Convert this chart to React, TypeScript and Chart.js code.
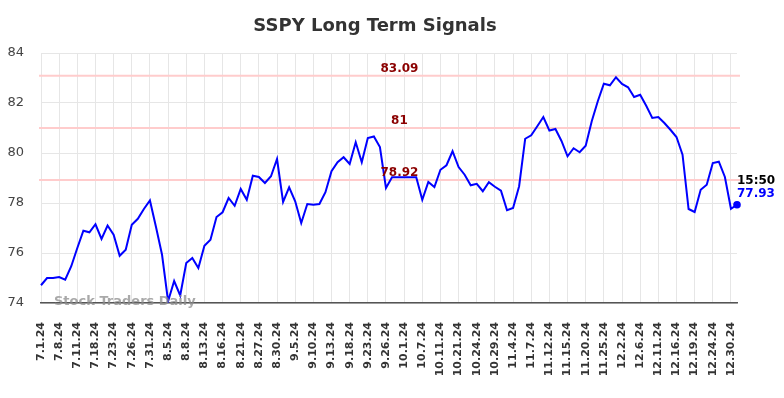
import React, { useEffect, useRef } from "react";
import { Chart, registerables } from "chart.js";

Chart.register(...registerables);

const titleText = "SSPY Long Term Signals";
const watermark = "Stock Traders Daily";
const lastTime = "15:50";
const lastLabel = "77.93";

const tickLabels = [
  "7.1.24", "7.8.24", "7.11.24", "7.18.24", "7.23.24", "7.26.24", "7.31.24",
  "8.5.24", "8.8.24", "8.13.24", "8.16.24", "8.21.24", "8.27.24", "8.30.24",
  "9.5.24", "9.10.24", "9.13.24", "9.18.24", "9.23.24", "9.26.24",
  "10.1.24", "10.7.24", "10.11.24", "10.21.24", "10.24.24", "10.29.24",
  "11.4.24", "11.7.24", "11.12.24", "11.15.24", "11.20.24", "11.25.24",
  "12.2.24", "12.6.24", "12.11.24", "12.16.24", "12.19.24", "12.24.24", "12.30.24",
];

const values = [
  74.71, 75.0, 75.0, 75.04, 74.93, 75.47, 76.2, 76.89, 76.83, 77.15,
  76.56, 77.1, 76.73, 75.89, 76.13, 77.13, 77.37, 77.76, 78.1, 77.04,
  75.93, 74.07, 74.88, 74.3, 75.6, 75.8, 75.4, 76.29, 76.53, 77.44,
  77.63, 78.2, 77.89, 78.56, 78.13, 79.09, 79.04, 78.8, 79.07, 79.76,
  78.04, 78.63, 78.07, 77.2, 77.96, 77.93, 77.96, 78.43, 79.27, 79.63,
  79.83, 79.56, 80.43, 79.63, 80.6, 80.66, 80.24, 78.6, 79.03, 79.03,
  79.03, 79.03, 79.03, 78.13, 78.84, 78.64, 79.33, 79.51, 80.07, 79.44,
  79.13, 78.71, 78.77, 78.47, 78.83, 78.65, 78.49, 77.71, 77.8, 78.67,
  80.57, 80.71, 81.07, 81.44, 80.9, 80.96, 80.48, 79.87, 80.19, 80.03,
  80.29, 81.27, 82.07, 82.77, 82.71, 83.03, 82.76, 82.63, 82.24, 82.33,
  81.89, 81.4, 81.44, 81.2, 80.93, 80.64, 79.93, 77.76, 77.64, 78.53,
  78.73, 79.6, 79.65, 79.04, 77.77, 77.93,
];

const levels = [83.09, 81, 78.92];
const levelLabels = ["83.09", "81", "78.92"];

const categories = values.map((_, i) =>
  i % 3 === 0 && tickLabels[i / 3] !== undefined ? tickLabels[i / 3] : ""
);

const FONT = "'DejaVu Sans', sans-serif";

const annotPlugin = {
  id: "annot",
  beforeDatasetsDraw(chart: any) {
    const { ctx, chartArea } = chart;
    const y = chart.scales.y;
    ctx.save();
    ctx.strokeStyle = "#ffcccc";
    ctx.lineWidth = 2;
    levels.forEach((v) => {
      const py = y.getPixelForValue(v);
      ctx.beginPath();
      ctx.moveTo(chartArea.left - 2, py);
      ctx.lineTo(chartArea.right + 3, py);
      ctx.stroke();
    });
    ctx.restore();
  },
  afterDatasetsDraw(chart: any) {
    const { ctx, chartArea } = chart;
    const y = chart.scales.y;
    ctx.save();
    // title
    ctx.fillStyle = "#333333";
    ctx.font = `bold 18px ${FONT}`;
    ctx.textAlign = "center";
    ctx.textBaseline = "middle";
    ctx.fillText(titleText, 375, 26);
    // level labels
    ctx.fillStyle = "#8b0000";
    ctx.font = `bold 12px ${FONT}`;
    const cx = chartArea.left + (chartArea.right - chartArea.left) * 0.515;
    levels.forEach((v, i) => {
      const py = y.getPixelForValue(v);
      ctx.fillText(levelLabels[i], cx, py - 7);
    });
    // watermark
    ctx.fillStyle = "rgba(140,140,140,0.75)";
    ctx.font = `bold 13px ${FONT}`;
    ctx.textAlign = "left";
    ctx.fillText(watermark, 54, 302);
    // end point
    const meta = chart.getDatasetMeta(0);
    const pt = meta.data[meta.data.length - 1];
    ctx.fillStyle = "#0000ff";
    ctx.beginPath();
    ctx.arc(pt.x, pt.y, 3.8, 0, Math.PI * 2);
    ctx.fill();
    ctx.font = `bold 12px ${FONT}`;
    ctx.fillStyle = "#000000";
    ctx.fillText(lastTime, pt.x, pt.y - 24);
    ctx.fillStyle = "#0000ff";
    ctx.fillText(lastLabel, pt.x, pt.y - 11);
    ctx.restore();
  },
};

export default function App() {
  const ref = useRef<HTMLCanvasElement>(null);
  useEffect(() => {
    if (!ref.current) return;
    const chart = new Chart(ref.current, {
      type: "line",
      data: {
        labels: categories,
        datasets: [
          {
            data: values,
            borderColor: "#0000ff",
            borderWidth: 2,
            pointRadius: 0,
            tension: 0,
            fill: false,
          },
        ],
      },
      options: {
        responsive: false,
        animation: false,
        layout: { padding: { top: 53, right: 47, left: 0, bottom: 0 } },
        plugins: {
          legend: { display: false },
          title: { display: false },
          tooltip: { enabled: false },
        },
        scales: {
          x: {
            type: "category",
            afterFit: (s: any) => {
              s.height = 95;
            },
            ticks: {
              autoSkip: false,
              maxRotation: 90,
              minRotation: 90,
              padding: 19,
              color: "#333333",
              font: { family: FONT, size: 11, weight: "bold" },
            },
            grid: {
              drawTicks: false,
              color: (c: any) => (c.index % 3 === 0 ? "#e6e6e6" : "rgba(0,0,0,0)"),
            },
            border: { color: "#555555", width: 1.5 },
          },
          y: {
            min: 74,
            max: 84,
            afterFit: (s: any) => {
              s.width = 41;
            },
            ticks: {
              stepSize: 2,
              padding: 17,
              color: "#444444",
              font: { family: FONT, size: 13 },
            },
            grid: { drawTicks: false, color: "#e6e6e6" },
            border: { display: false },
          },
        },
      },
      plugins: [annotPlugin],
    });
    return () => chart.destroy();
  }, []);
  return (
    <div style={{ position: "absolute", left: 0, top: 0, width: 784, height: 398 }}>
      <canvas ref={ref} width={784} height={398} style={{ display: "block" }} />
    </div>
  );
}
